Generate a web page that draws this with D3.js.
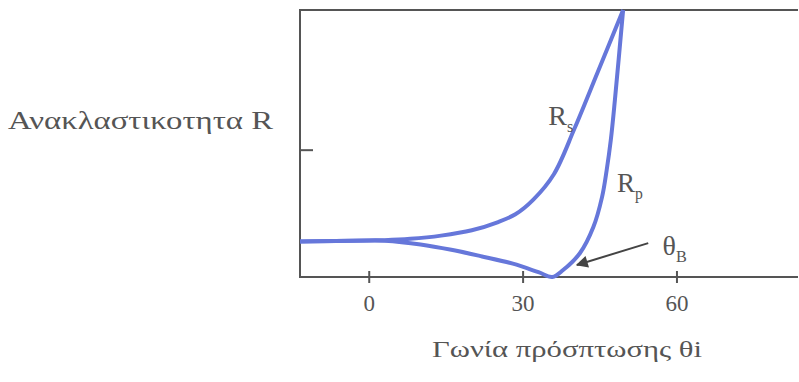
<!DOCTYPE html>
<html>
<head>
<meta charset="utf-8">
<script src="https://cdn.jsdelivr.net/npm/d3@7"></script>
<style>
  body { margin: 0; background: #fff; }
  text { font-family: "Liberation Serif", "DejaVu Serif", serif; fill: #555; }
</style>
</head>
<body>
<svg id="chart_region"></svg>
<script>
// angle of incidence (deg) and reflectance
const rs_angle = [-13.5, 0, 3, 8, 14, 20, 25, 28.5, 32, 36, 40, 44.5, 49.5];
const rs_value = [0.133, 0.137, 0.138, 0.143, 0.155, 0.175, 0.205, 0.235, 0.290, 0.385, 0.555, 0.765, 1.0];

const rp_angle = [-13.5, 0, 3, 10, 16, 22, 28, 33, 35.7, 37.8, 41.1, 43.7, 45.4, 46.3, 47.1, 47.9, 49.5];
const rp_value = [0.133, 0.137, 0.136, 0.122, 0.102, 0.077, 0.050, 0.018, 0.0, 0.026, 0.090, 0.187, 0.300, 0.401, 0.513, 0.663, 1.0];

const x_ticks = [0, 30, 60];
const y_ticks = [0.475];

const y_title = 'Ανακλαστικοτητα R';
const x_title = 'Γωνία πρόσπτωσης θi';

class ReflectChart{
    constructor(config){
        this.config = {
            parent: config.parent || '#chart_region',
            width: config.width || 799,
            height: config.height || 382,
            margin: config.margin || {top:10, right:1, bottom:105, left:300}
        };
        this.init();
    }

    init(){
        const c = this.config;
        this.svg = d3.select(c.parent)
            .attr('width', c.width)
            .attr('height', c.height);

        this.inner_width = c.width - c.margin.left - c.margin.right;
        this.inner_height = c.height - c.margin.top - c.margin.bottom;

        this.chart = this.svg.append('g')
            .attr('transform', `translate(${c.margin.left}, ${c.margin.top})`);

        this.xscale = d3.scaleLinear()
            .domain([-13.5, 83.6])
            .range([0, this.inner_width]);

        this.yscale = d3.scaleLinear()
            .domain([0, 1])
            .range([this.inner_height, 0]);

        this.render();
    }

    render(){
        const x = this.xscale, y = this.yscale;
        const w = this.inner_width, h = this.inner_height;
        const axis_col = '#555';

        // frame: left, top, bottom
        this.chart.append('path')
            .attr('d', `M${w},0 H0 V${h} H${w}`)
            .attr('fill', 'none')
            .attr('stroke', axis_col)
            .attr('stroke-width', 2);

        // x ticks crossing the axis
        const xg = this.chart.append('g');
        xg.selectAll('line').data(x_ticks).join('line')
            .attr('x1', d => x(d)).attr('x2', d => x(d))
            .attr('y1', h - 6).attr('y2', h + 6)
            .attr('stroke', axis_col).attr('stroke-width', 2);
        xg.selectAll('text').data(x_ticks).join('text')
            .attr('x', d => x(d))
            .attr('y', h + 34)
            .attr('text-anchor', 'middle')
            .attr('font-size', 23)
            .text(d => d);

        // y tick pointing inward
        this.chart.selectAll('.ytick').data(y_ticks).join('line')
            .attr('class', 'ytick')
            .attr('x1', 0).attr('x2', 13)
            .attr('y1', d => y(d)).attr('y2', d => y(d))
            .attr('stroke', axis_col).attr('stroke-width', 2);

        const line = d3.line()
            .x(d => x(d[0]))
            .y(d => y(d[1]))
            .curve(d3.curveCatmullRom.alpha(0.5));

        const series = [
            d3.zip(rs_angle, rs_value),
            d3.zip(rp_angle, rp_value)
        ];
        this.chart.selectAll('.curve').data(series).join('path')
            .attr('class', 'curve')
            .attr('d', line)
            .attr('fill', 'none')
            .attr('stroke', '#6677da')
            .attr('stroke-width', 4)
            .attr('stroke-linejoin', 'round');

        // curve labels
        const lab = (ax, ry, main, sub, size) => {
            const t = this.chart.append('text')
                .attr('x', x(ax)).attr('y', y(ry))
                .attr('font-size', size);
            t.append('tspan').text(main);
            t.append('tspan').attr('font-size', size * 0.58).attr('dy', 7).text(sub);
        };
        lab(34.9, 0.569, 'R', 's', 28);
        lab(48.3, 0.318, 'R', 'p', 27);
        lab(57.2, 0.082, 'θ', 'B', 28);

        // arrow to the Brewster angle
        this.svg.append('defs').append('marker')
            .attr('id', 'head')
            .attr('viewBox', '0 0 10 10')
            .attr('refX', 9).attr('refY', 5)
            .attr('markerWidth', 16).attr('markerHeight', 12)
            .attr('markerUnits', 'userSpaceOnUse')
            .attr('orient', 'auto')
            .append('path')
            .attr('d', 'M0,0 L10,5 L0,10 z')
            .attr('fill', '#444');
        this.chart.append('line')
            .attr('x1', x(54.4)).attr('y1', y(0.127))
            .attr('x2', x(40.5)).attr('y2', y(0.045))
            .attr('stroke', '#444').attr('stroke-width', 2)
            .attr('marker-end', 'url(#head)');

        // titles
        this.svg.append('text')
            .attr('x', 8).attr('y', 129)
            .attr('font-size', 26)
            .attr('textLength', 265)
            .attr('lengthAdjust', 'spacingAndGlyphs')
            .text(y_title);
        this.svg.append('text')
            .attr('x', 432).attr('y', 357)
            .attr('font-size', 24)
            .attr('textLength', 270)
            .attr('lengthAdjust', 'spacingAndGlyphs')
            .text(x_title);
    }
}

new ReflectChart({});
</script>
</body>
</html>
